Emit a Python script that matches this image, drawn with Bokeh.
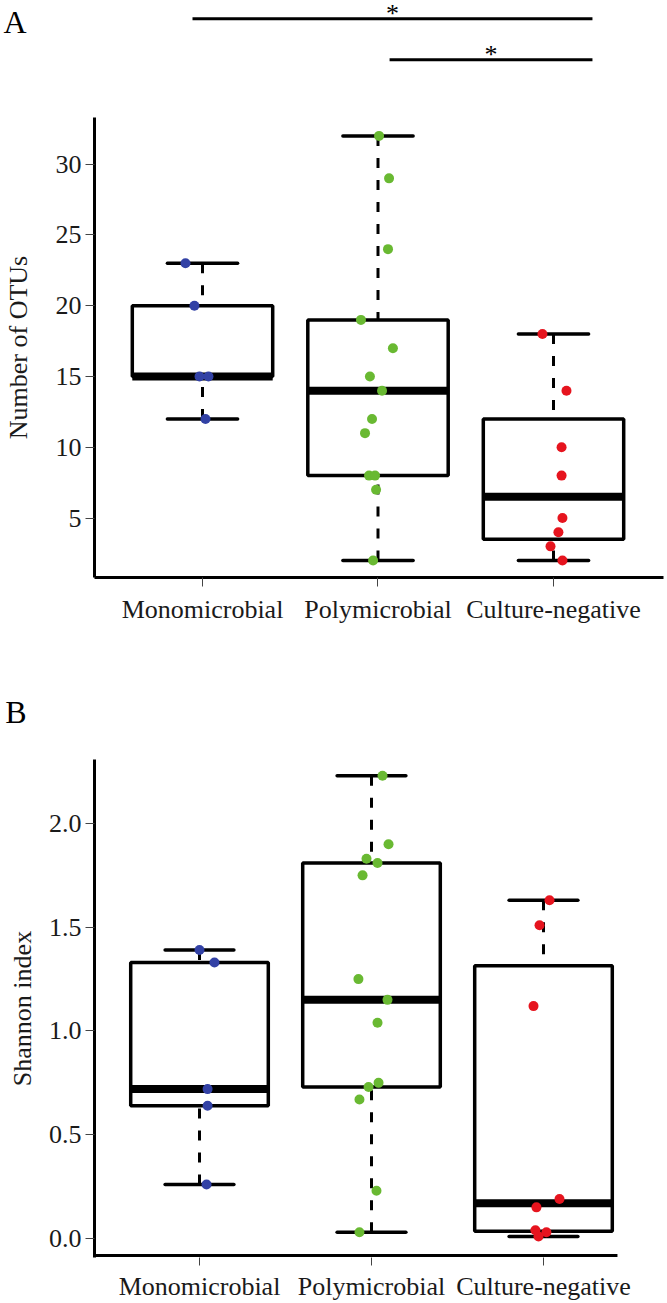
import math
from bokeh.plotting import figure
from bokeh.layouts import column
from bokeh.models import Range1d, FixedTicker, PrintfTickFormatter
from bokeh.core.properties import value
from bokeh.embed import file_html
from bokeh.resources import INLINE

# ---------------- data ----------------
categories = ["Monomicrobial", "Polymicrobial", "Culture-negative"]
group_colors = ["#3241A5", "#69B932", "#E6141E"]

otus_mono = [23, 20, 15, 15, 12]
otus_poly = [32, 29, 24, 19, 17, 15, 14, 12, 11, 8, 8, 7, 2]
otus_cneg = [18, 14, 10, 8, 5, 4, 3, 2]
otus_jit_mono = [-0.097, -0.046, -0.017, 0.034, 0.017]
otus_jit_poly = [0.006, 0.063, 0.057, -0.097, 0.085, -0.046, 0.023, -0.034, -0.074, -0.051, -0.017, -0.011, -0.028]
otus_jit_cneg = [-0.063, 0.074, 0.046, 0.046, 0.051, 0.028, -0.017, 0.051]

shannon_mono = [1.39, 1.33, 0.72, 0.64, 0.26]
shannon_poly = [2.23, 1.90, 1.83, 1.81, 1.75, 1.25, 1.15, 1.04, 0.75, 0.73, 0.67, 0.23, 0.03]
shannon_cneg = [1.63, 1.51, 1.12, 0.19, 0.15, 0.04, 0.03, 0.01]
shannon_jit_mono = [0.0, 0.087, 0.047, 0.047, 0.041]
shannon_jit_poly = [0.064, 0.099, -0.029, 0.035, -0.052, -0.076, 0.093, 0.035, 0.041, -0.017, -0.070, 0.029, -0.070]
shannon_jit_cneg = [0.035, -0.023, -0.058, 0.093, -0.041, -0.047, 0.017, -0.029]

otus_ticks = [5, 10, 15, 20, 25, 30]
shannon_ticks = [0.0, 0.5, 1.0, 1.5, 2.0]

# significance brackets (panel A, in panel A data units)
sig_x0 = [0.943, 2.066]
sig_x1 = [3.222, 3.222]
sig_y = [40.27, 37.38]
sig_text = ["*", "*"]

panel_tags = ["A", "B"]

FONT = "Liberation Serif"

# layout constants (ranges of the plotting regions)
A_X = (0.3846, 3.6268)
A_Y = (0.8, 33.3)
A_TOP_Y = (33.3, 41.566)
A_TAG_Y = 40.08
B_X = (0.3895, 3.6977)
B_Y = (-0.0916, 2.3084)
B_TOP_Y = (2.3084, 2.8337)
B_TAG_Y = 2.5397
B_AXIS_Y = -0.0819     # where panel B's x axis line lies
B_AXIS_X_END = 3.43    # panel B's x axis line stops here


def fivenum(vals):
    x = sorted(vals)
    n = len(x)
    n4 = math.floor((n + 3) / 2) / 2
    d = [1, n4, (n + 1) / 2, n + 1 - n4, n]
    return [0.5 * (x[math.floor(k - 1)] + x[math.ceil(k - 1)]) for k in d]


def draw_groups(p, groups, jitters):
    for i, (vals, jit) in enumerate(zip(groups, jitters)):
        xc = i + 1
        q = fivenum(vals)
        iqr = q[3] - q[1]
        lo = min(v for v in vals if v >= q[1] - 1.5 * iqr)
        hi = max(v for v in vals if v <= q[3] + 1.5 * iqr)
        p.quad(left=[xc - 0.4], right=[xc + 0.4], bottom=[q[1]], top=[q[3]],
               fill_color=None, line_color="black", line_width=3.5)
        p.segment(x0=[xc - 0.4], y0=[q[2]], x1=[xc + 0.4], y1=[q[2]],
                  line_color="black", line_width=8, line_cap="butt")
        p.segment(x0=[xc, xc], y0=[hi, lo], x1=[xc, xc], y1=[q[3], q[1]],
                  line_color="black", line_width=3, line_dash="10 12", line_cap="butt")
        p.segment(x0=[xc - 0.2, xc - 0.2], y0=[hi, lo], x1=[xc + 0.2, xc + 0.2], y1=[hi, lo],
                  line_color="black", line_width=3.5, line_cap="round")
        p.scatter(x=[xc + j for j in jit], y=vals, size=10, marker="circle",
                  fill_color=group_colors[i], line_color=group_colors[i], line_width=0)


def style_axes(p, yticks, ylabel, yfmt, lab_standoff, x_tick_out, x_standoff):
    p.outline_line_color = None
    p.xgrid.visible = False
    p.ygrid.visible = False
    p.background_fill_color = "white"
    p.border_fill_color = "white"
    for ax in p.xaxis:
        ax.ticker = FixedTicker(ticks=[1, 2, 3])
        ax.major_label_overrides = {1: categories[0], 2: categories[1], 3: categories[2]}
        ax.major_label_standoff = x_standoff
        ax.major_tick_out = x_tick_out
    for ax in p.yaxis:
        ax.ticker = FixedTicker(ticks=yticks)
        ax.formatter = PrintfTickFormatter(format=yfmt)
        ax.axis_label = ylabel
        ax.axis_label_text_font = FONT
        ax.axis_label_text_font_size = "26px"
        ax.axis_label_text_font_style = "normal"
        ax.axis_label_text_color = "#1a1a1a"
        ax.axis_label_standoff = lab_standoff
        ax.major_label_standoff = 4
        ax.major_tick_out = 9
    for ax in list(p.xaxis) + list(p.yaxis):
        ax.axis_line_color = "black"
        ax.axis_line_width = 3
        ax.major_tick_in = 0
        ax.minor_tick_out = 0
        ax.minor_tick_in = 0
        ax.major_tick_line_color = "#444444"
        ax.major_tick_line_width = 1
        ax.major_label_text_font = FONT
        ax.major_label_text_font_size = "26px"
        ax.major_label_text_color = "#1a1a1a"


COMMON = dict(width=667, output_backend="svg", toolbar_location=None, title=None,
              min_border_left=94, min_border_right=4)


def strip_fig(h, xr, yr, tag, tag_y):
    """Strip above a panel; the panel tag is written in its left margin."""
    p = figure(height=h, x_range=xr, y_range=yr, x_axis_type=None,
               min_border_top=0, min_border_bottom=0, **COMMON)
    p.outline_line_color = None
    p.background_fill_color = "white"
    p.border_fill_color = "white"
    p.xgrid.visible = False
    p.ygrid.visible = False
    ax = p.yaxis[0]
    ax.ticker = FixedTicker(ticks=[tag_y])
    ax.major_label_overrides = {tag_y: tag}
    ax.axis_line_color = None
    ax.major_tick_line_color = None
    ax.minor_tick_line_color = None
    ax.major_tick_out = 0
    ax.major_tick_in = 0
    ax.major_label_standoff = 68
    ax.major_label_text_font = FONT
    ax.major_label_text_font_size = "32px"
    ax.major_label_text_color = "black"
    return p


xrA = Range1d(*A_X)
xrB = Range1d(*B_X)

# ---------------- top strip of panel A (tag + significance) ----------------
topA = strip_fig(117, xrA, Range1d(*A_TOP_Y), panel_tags[0], A_TAG_Y)
topA.segment(x0=sig_x0, y0=sig_y, x1=sig_x1, y1=sig_y, line_color="black", line_width=3)
topA.text(x=[(a + b) / 2 for a, b in zip(sig_x0, sig_x1)], y=sig_y, text=sig_text,
          text_align="center", text_baseline="middle", y_offset=-5,
          text_font=value(FONT), text_font_size="26px", text_color="black")

# ---------------- panel A ----------------
pA = figure(height=533, x_range=xrA, y_range=Range1d(*A_Y),
            min_border_top=0, min_border_bottom=73, **COMMON)
draw_groups(pA, [otus_mono, otus_poly, otus_cneg], [otus_jit_mono, otus_jit_poly, otus_jit_cneg])
style_axes(pA, otus_ticks, "Number of OTUs", "%d", 20, 9, 8)

# ---------------- top strip of panel B ----------------
topB = strip_fig(109, xrB, Range1d(*B_TOP_Y), panel_tags[1], B_TAG_Y)

# ---------------- panel B ----------------
pB = figure(height=544, x_range=xrB, y_range=Range1d(*B_Y),
            min_border_top=0, min_border_bottom=46, **COMMON)
draw_groups(pB, [shannon_mono, shannon_poly, shannon_cneg],
            [shannon_jit_mono, shannon_jit_poly, shannon_jit_cneg])
style_axes(pB, shannon_ticks, "Shannon index", "%.1f", 9, 8, 6)
pB.xaxis.axis_line_color = None
pB.segment(x0=[B_X[0]], y0=[B_AXIS_Y], x1=[B_AXIS_X_END], y1=[B_AXIS_Y],
           line_color="black", line_width=3)

layout = column(topA, pA, topB, pB, spacing=0)
open("out.html", "w").write(file_html(layout, INLINE))
